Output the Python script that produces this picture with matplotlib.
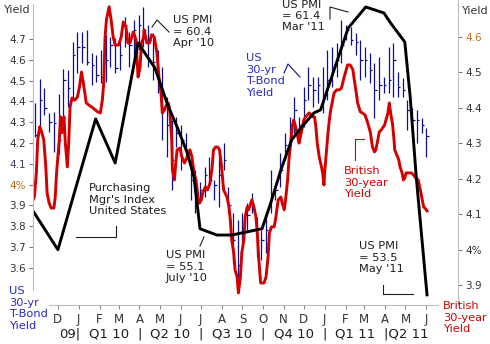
import numpy as np
import pandas as pd
import matplotlib
matplotlib.use('Agg')
import matplotlib.pyplot as plt
import matplotlib.transforms as mtransforms
from matplotlib.lines import Line2D

W, H = 490, 344
base = pd.Timestamp('2009-12-01')

# US 30-yr T-bond yield, weekly bars
us_first_week = '2009-10-28'
us_high = [4.392, 4.508, 4.464, 4.344, 4.349, 4.436, 4.556, 4.551, 4.686, 4.734,
           4.734, 4.743, 4.633, 4.623, 4.647, 4.719, 4.710, 4.705, 4.705, 4.806,
           4.734, 4.791, 4.815, 4.854, 4.767, 4.729, 4.647, 4.565, 4.421, 4.311,
           4.325, 4.287, 4.248, 4.118, 4.070, 4.013, 4.085, 4.133, 4.022, 4.181,
           4.200, 3.988, 3.863, 3.830, 3.863, 3.912, 3.960, 3.844, 3.782, 3.863,
           4.070, 3.988, 4.152, 4.248, 4.325, 4.421, 4.325, 4.469, 4.565, 4.517,
           4.517, 4.565, 4.647, 4.662, 4.681, 4.791, 4.767, 4.758, 4.729, 4.695,
           4.662, 4.633, 4.585, 4.613, 4.517, 4.662, 4.681, 4.541, 4.513, 4.407,
           4.368, 4.359, 4.320, 4.272]
us_low = [4.229, 4.253, 4.335, 4.253, 4.157, 4.147, 4.287, 4.373, 4.407, 4.537,
          4.585, 4.575, 4.479, 4.493, 4.488, 4.493, 4.565, 4.537, 4.551, 4.662,
          4.565, 4.589, 4.647, 4.662, 4.565, 4.503, 4.440, 4.214, 4.133, 3.974,
          4.181, 4.070, 4.118, 3.926, 3.863, 3.912, 3.940, 3.988, 3.926, 3.892,
          4.070, 3.863, 3.623, 3.527, 3.719, 3.782, 3.863, 3.652, 3.638, 3.671,
          3.863, 3.926, 3.988, 4.118, 4.181, 4.248, 4.214, 4.277, 4.407, 4.373,
          4.392, 4.344, 4.407, 4.469, 4.517, 4.585, 4.695, 4.671, 4.623, 4.503,
          4.517, 4.488, 4.320, 4.407, 4.440, 4.440, 4.421, 4.421, 4.421, 4.263,
          4.253, 4.200, 4.248, 4.133]
us_close = [4.238, 4.407, 4.368, 4.301, 4.296, 4.214, 4.503, 4.464, 4.623, 4.662,
            4.662, 4.589, 4.575, 4.527, 4.517, 4.599, 4.671, 4.561, 4.623, 4.767,
            4.671, 4.743, 4.767, 4.743, 4.695, 4.589, 4.479, 4.359, 4.287, 4.118,
            4.248, 4.214, 4.166, 4.022, 3.950, 3.974, 4.046, 4.022, 3.998, 4.046,
            4.118, 3.902, 3.734, 3.613, 3.782, 3.854, 3.902, 3.734, 3.734, 3.782,
            3.950, 3.974, 4.070, 4.190, 4.287, 4.359, 4.287, 4.407, 4.479, 4.455,
            4.479, 4.431, 4.503, 4.551, 4.599, 4.671, 4.743, 4.695, 4.686, 4.599,
            4.599, 4.551, 4.455, 4.479, 4.479, 4.503, 4.599, 4.469, 4.455, 4.359,
            4.311, 4.311, 4.287, 4.234]

# British 30-year yield (days after 1 Dec 2009)
uk_day = [-37, -35, -32, -30, -27, -25, -21, -18, -16, -13,
          -10, -6, -4, -2, 2, 4, 6, 9, 11, 14,
          16, 18, 21, 25, 29, 32, 35, 37, 40, 42,
          46, 52, 59, 63, 66, 68, 70, 72, 76, 79,
          82, 85, 90, 94, 97, 101, 104, 107, 112, 116,
          119, 122, 124, 127, 128, 132, 136, 139, 143, 147,
          150, 153, 155, 158, 161, 164, 166, 169, 170, 173,
          175, 177, 181, 184, 188, 192, 196, 199, 202, 205,
          208, 210, 213, 215, 219, 222, 226, 229, 231, 234,
          237, 240, 243, 246, 251, 254, 256, 258, 261, 263,
          266, 268, 271, 273, 276, 278, 281, 283, 288, 291,
          294, 296, 298, 301, 306, 309, 312, 314, 317, 321,
          323, 327, 331, 333, 336, 338, 341, 343, 346, 348,
          350, 353, 355, 358, 360, 363, 365, 368, 373, 378,
          381, 383, 385, 388, 391, 393, 395, 396, 398, 401,
          403, 405, 408, 410, 414, 418, 421, 425, 428, 430,
          434, 438, 440, 443, 445, 449, 452, 456, 460, 464,
          467, 470, 472, 475, 477, 480, 485, 490, 492, 494,
          497, 499, 500, 502, 506, 508, 511, 513, 515, 517,
          521, 525, 528, 531, 535, 537, 539, 541, 543, 545,
          548]
uk_yield = [4.141, 4.149, 4.217, 4.310, 4.347, 4.338, 4.310, 4.234, 4.160, 4.132,
            4.118, 4.118, 4.149, 4.217, 4.310, 4.375, 4.330, 4.375, 4.301, 4.234,
            4.301, 4.403, 4.428, 4.422, 4.431, 4.459, 4.501, 4.479, 4.442, 4.414,
            4.408, 4.400, 4.389, 4.386, 4.423, 4.470, 4.600, 4.648, 4.685, 4.648,
            4.600, 4.577, 4.577, 4.600, 4.642, 4.628, 4.583, 4.583, 4.614, 4.592,
            4.487, 4.515, 4.583, 4.597, 4.620, 4.583, 4.583, 4.606, 4.600, 4.555,
            4.487, 4.442, 4.386, 4.394, 4.408, 4.414, 4.394, 4.310, 4.225, 4.197,
            4.245, 4.282, 4.287, 4.262, 4.245, 4.262, 4.282, 4.262, 4.217, 4.197,
            4.149, 4.132, 4.141, 4.161, 4.178, 4.169, 4.189, 4.234, 4.282, 4.290,
            4.290, 4.282, 4.234, 4.169, 4.149, 4.121, 4.085, 4.028, 3.992, 3.944,
            3.924, 3.879, 3.924, 3.992, 4.028, 4.093, 4.121, 4.113, 4.141, 4.121,
            4.093, 4.048, 3.980, 3.907, 3.907, 3.924, 3.980, 4.048, 4.065, 4.065,
            4.085, 4.141, 4.149, 4.132, 4.113, 4.141, 4.197, 4.254, 4.310, 4.347,
            4.366, 4.347, 4.330, 4.301, 4.318, 4.347, 4.366, 4.375, 4.386, 4.375,
            4.375, 4.347, 4.301, 4.262, 4.237, 4.217, 4.183, 4.217, 4.262, 4.330,
            4.366, 4.394, 4.423, 4.442, 4.451, 4.451, 4.456, 4.487, 4.507, 4.521,
            4.521, 4.507, 4.479, 4.442, 4.414, 4.389, 4.386, 4.380, 4.358, 4.330,
            4.290, 4.276, 4.282, 4.310, 4.332, 4.338, 4.352, 4.386, 4.414, 4.386,
            4.352, 4.310, 4.282, 4.273, 4.254, 4.234, 4.217, 4.197, 4.203, 4.217,
            4.217, 4.217, 4.211, 4.203, 4.197, 4.178, 4.161, 4.141, 4.121, 4.118,
            4.110]

# Purchasing Mgr's Index, United States
pmi_day = [-37, 0, 56, 85, 119, 144, 163, 177, 192, 202, 211, 236, 258, 303,
           315, 331, 347, 362, 380, 390, 431, 457, 484, 494, 515, 523, 532, 548]
pmi = [55.60, 54.49, 58.23, 56.97, 60.40, 59.69, 58.63, 58.00, 57.26, 56.57,
       55.09, 54.91, 54.91, 55.09, 55.77, 56.77, 57.63, 58.00, 58.40, 58.49,
       60.83, 61.43, 61.26, 60.97, 60.43, 58.86, 56.57, 53.20]

month_labels = ['D', 'J', 'F', 'M', 'A', 'M', 'J', 'J', 'A', 'S', 'O', 'N', 'D',
                'J', 'F', 'M', 'A', 'M', 'J']
quarter_labels = ['Q1 10', 'Q2 10', 'Q3 10', 'Q4 10', 'Q1 11', 'Q2 11']
left_ticks = [4.7, 4.6, 4.5, 4.4, 4.3, 4.2, 4.1, 4.0, 3.9, 3.8, 3.7, 3.6]
left_labels = ['4.7', '4.6', '4.5', '4.4', '4.3', '4.2', '4.1', '4%', '3.9', '3.8', '3.7', '3.6']
right_ticks = [4.6, 4.5, 4.4, 4.3, 4.2, 4.1, 4.0, 3.9]
right_labels = ['4.6', '4.5', '4.4', '4.3', '4.2', '4.1', '4%', '3.9']

BLUE = '#10108c'
RED = '#d40000'
INK = '#1e1e1e'
GRID = '#bcbcbc'


def days(dates):
    return np.asarray((pd.to_datetime(dates) - base).days, dtype=float)


fig = plt.figure(figsize=(W / 100, H / 100), dpi=100)
ax = fig.add_axes([33 / W, 1 - 305 / H, 425 / W, 305 / H])
ax2 = ax.twinx()
ax3 = ax.twinx()

x0, x1 = days(['2009-10-25', '2011-07-18'])
for a in (ax, ax2, ax3):
    a.set_xlim(x0, x1)
    for s in a.spines.values():
        s.set_visible(False)
ax.set_ylim(3.421, 4.888)
ax2.set_ylim(3.845, 4.704)
ax3.set_ylim(52.91, 61.63)

# US weekly bars
wk = days(pd.date_range(us_first_week, periods=len(us_high), freq='7D'))
ax.vlines(wk, us_low, us_high, color=BLUE, lw=0.9)
ax.hlines(us_close, wk, wk + 3.5, color=BLUE, lw=0.9)

ax2.plot(uk_day, uk_yield, color=RED, lw=2.1, solid_joinstyle='round')
ax3.plot(pmi_day, pmi, color='black', lw=2.1, solid_joinstyle='round')

# axes ticks
ax.set_yticks(left_ticks)
ax.set_yticklabels(left_labels)
ax.tick_params(axis='y', length=3, pad=2, color='#777777', labelsize=7.5, labelcolor='#333333')
ax.get_yticklabels()[6].set_color('#4a3c64')
ax.get_yticklabels()[7].set_color('#b0681a')

ax2.set_yticks(right_ticks)
ax2.set_yticklabels(right_labels)
ax2.tick_params(axis='y', length=3, pad=2, color='#777777', labelsize=7.5, labelcolor='#333333')
ax2.get_yticklabels()[0].set_color('#c0701c')
ax3.set_yticks([])

mticks = days(pd.date_range('2009-12-01', '2011-06-01', freq='MS'))
ax.set_xticks(mticks)
ax.set_xticklabels(month_labels)
ax.tick_params(axis='x', length=3, pad=3, color='#888888', labelsize=8.5, labelcolor='#333333')


def fig_line(xs, ys, color, lw=0.8):
    fig.add_artist(Line2D([x / W for x in xs], [1 - y / H for y in ys],
                          transform=fig.transFigure, color=color, lw=lw))


def fig_text(x, y, s, color, size=8.2, ls=1.2, **kw):
    fig.text(x / W, 1 - y / H, s, color=color, fontsize=size, va='top', ha='left',
             linespacing=ls, **kw)


# frame lines
fig_line([33, 33], [4, 290], GRID)
fig_line([458, 458], [0, 304], GRID)
fig_line([49, 438], [305, 305], GRID)

# quarter row
qd = days(['2010-01-01', '2010-04-01', '2010-07-01', '2010-10-01', '2011-01-01',
           '2011-04-01', '2011-07-01'])
qtrans = mtransforms.blended_transform_factory(ax.transData, fig.transFigure)
qy = 1 - 334 / H
ax.text(qd[0] + 2, qy, '09|', transform=qtrans, ha='right', va='center', fontsize=9.5, color=INK)
for i in range(5):
    ax.text((qd[i] + qd[i + 1]) / 2, qy, quarter_labels[i], transform=qtrans,
            ha='center', va='center', fontsize=9.5, color=INK)
    if i < 4:
        ax.text(qd[i + 1], qy, '|', transform=qtrans, ha='center', va='center',
                fontsize=9.5, color=INK)
ax.text(qd[5] - 2, qy, '|' + quarter_labels[5], transform=qtrans, ha='left', va='center',
        fontsize=9.5, color=INK)

# labels and pointers
fig_text(4, 5, 'Yield', '#333333', size=8)
fig_text(462, 6, 'Yield', '#333333', size=8)

fig_text(173, 15, "US PMI\n= 60.4\nApr '10", INK)
fig_line([152, 157, 169], [27, 20, 32], INK)

fig_text(282, 0.5, "US PMI\n= 61.4\nMar '11", INK, ls=1.12)
fig_line([330, 330, 348], [19, 7, 12], INK)

fig_text(246, 53, "US\n30-yr\nT-Bond\nYield", '#2a2ac0')
fig_line([284, 288, 300], [73, 64, 77], BLUE)

fig_text(89, 183, "Purchasing\nMgr's Index\nUnited States", INK)
fig_line([76, 116, 116], [237, 237, 226], INK)

fig_text(166, 250, "US PMI\n= 55.1\nJuly '10", INK)
fig_line([200, 204], [246, 237], INK)

fig_text(359, 241, "US PMI\n= 53.5\nMay '11", INK)
fig_line([383, 383, 413], [285, 294, 294], INK)

fig_text(344, 166, "British\n30-year\nYield", RED)
fig_line([355, 355, 364], [160, 139, 139], RED)

fig_text(9, 286, "US\n30-yr\nT-Bond\nYield", '#2a2ac0')
fig_text(443, 301, "British\n30-year\nYield", RED)

fig.savefig('out.png', dpi=100)
